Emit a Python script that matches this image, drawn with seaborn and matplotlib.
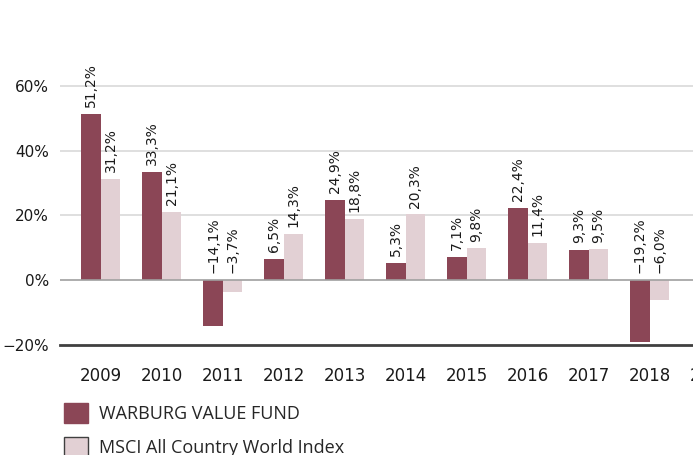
import matplotlib
matplotlib.use("Agg")
import matplotlib.pyplot as plt
from matplotlib.patches import Patch
import seaborn as sns
import pandas as pd

# Daten aus dem Bild
years = ["2009", "2010", "2011", "2012", "2013", "2014", "2015", "2016", "2017", "2018"]
axis_years = years + ["2019"]
fund = [51.2, 33.3, -14.1, 6.5, 24.9, 5.3, 7.1, 22.4, 9.3, -19.2]
msci = [31.2, 21.1, -3.7, 14.3, 18.8, 20.3, 9.8, 11.4, 9.5, -6.0]
series = ["WARBURG VALUE FUND", "MSCI All Country World Index"]
colors = ["#8b4656", "#e2d0d4"]
yticks = [-20, 0, 20, 40, 60]
ytick_labels = ["\u221220%", "0%", "20%", "40%", "60%"]

df = pd.DataFrame({
    "year": years * 2,
    "value": fund + msci,
    "series": [series[0]] * len(years) + [series[1]] * len(years),
})

sns.set_style("white")
plt.rcParams["font.family"] = ["DejaVu Sans"]

fig = plt.figure(figsize=(6.93, 4.55), dpi=100)
ax = fig.add_axes([60 / 693, 110 / 455, 675 / 693, 285 / 455])

sns.barplot(data=df, x="year", y="value", hue="series", order=axis_years,
            hue_order=series, palette=colors, width=0.64, saturation=1,
            linewidth=0, legend=False, ax=ax)

# Beschriftung der Balken
for cont, vals in zip(ax.containers, [fund, msci]):
    for bar, v in zip(cont, vals):
        x = bar.get_x() + bar.get_width() / 2
        y = max(v, 0)
        txt = f"{v:.1f}".replace(".", ",").replace("-", "\u2212") + "%"
        ax.annotate(txt, (x, y), xytext=(0, 5), textcoords="offset points",
                    rotation=90, ha="center", va="bottom", fontsize=10,
                    color="#1a1a1a")

ax.set_xlim(-0.67, 10.4)
ax.set_ylim(-20, 68)
ax.set_yticks(yticks)
ax.set_yticklabels(ytick_labels)
for t in [20, 40, 60]:
    ax.axhline(t, color="#d9d9d9", lw=1.2, zorder=0)
ax.axhline(0, color="#a0a0a0", lw=1.2, zorder=3)

for s in ["top", "right", "left"]:
    ax.spines[s].set_visible(False)
ax.spines["bottom"].set_color("#404040")
ax.spines["bottom"].set_linewidth(2)

ax.tick_params(axis="y", length=0, pad=8, labelsize=11, labelcolor="#1a1a1a")
ax.tick_params(axis="x", length=3, width=1, color="#404040", pad=13,
               labelsize=12, labelcolor="#1a1a1a")
ax.set_xlabel("")
ax.set_ylabel("")

handles = [Patch(facecolor=colors[0], edgecolor=colors[0]),
           Patch(facecolor=colors[1], edgecolor="#404040", linewidth=1)]
fig.legend(handles, series, loc="upper left", bbox_to_anchor=(57 / 693, 1 - 396 / 455),
           frameon=False, handlelength=1.3, handleheight=1.3,
           handletextpad=0.65, labelspacing=0.75, borderaxespad=0,
           prop={"family": "Open Sans", "size": 13})

fig.savefig("out.png", dpi=100)
